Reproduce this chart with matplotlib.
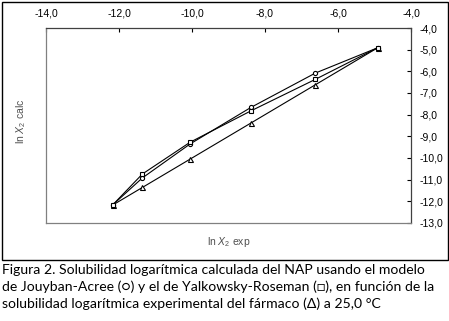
import matplotlib
matplotlib.use("Agg")
import matplotlib.pyplot as plt
from matplotlib.patches import Rectangle
from matplotlib.ticker import FuncFormatter, MultipleLocator

# ln X2 experimental (x) and calculated values (y)
ln_x2_exp = [-12.17, -11.36, -10.05, -8.38, -6.62, -4.91]
calc_exp = [-12.17, -11.36, -10.05, -8.38, -6.62, -4.91]
calc_jouyban = [-12.16, -10.92, -9.35, -7.66, -6.08, -4.91]
calc_yalkowsky = [-12.16, -10.74, -9.27, -7.82, -6.37, -4.91]

caption = [
    "Figura 2. Solubilidad logarítmica calculada del NAP usando el modelo",
    "de Jouyban-Acree (\u25cb) y el de Yalkowsky-Roseman (\u25a1), en función de la",
    "solubilidad logarítmica experimental del fármaco (\u0394) a 25,0 °C",
]

plt.rcParams['font.family'] = ['Liberation Sans', 'DejaVu Sans']
plt.rcParams['mathtext.fontset'] = 'custom'
plt.rcParams['mathtext.rm'] = 'Liberation Sans'
plt.rcParams['mathtext.it'] = 'Liberation Sans:italic'

W, H = 449, 321
fig = plt.figure(figsize=(W / 100, H / 100), dpi=100)

# outer frame around the chart area
fig.patches.append(Rectangle((1.5 / W, 1 - 260 / H), 446 / W, 258.5 / H,
                             transform=fig.transFigure, fill=False,
                             edgecolor='black', linewidth=1.0))

ax = fig.add_axes([46 / W, 1 - 223 / H, 365 / W, 195 / H])

mk = dict(color='black', linewidth=0.8, markerfacecolor='white',
          markeredgecolor='black', markeredgewidth=0.8)
ax.plot(ln_x2_exp, calc_exp, marker='^', markersize=3.6, **mk)
ax.plot(ln_x2_exp, calc_jouyban, marker='o', markersize=3.0, **mk)
ax.plot(ln_x2_exp, calc_yalkowsky, marker='s', markersize=3.2, **mk)

ax.set_xlim(-14, -4)
ax.set_ylim(-13, -4)
ax.xaxis.set_major_locator(MultipleLocator(2))
ax.yaxis.set_major_locator(MultipleLocator(1))
fmt = FuncFormatter(lambda v, p: f"{v:.1f}".replace('.', ','))
ax.xaxis.set_major_formatter(fmt)
ax.yaxis.set_major_formatter(fmt)
ax.xaxis.tick_top()
ax.yaxis.tick_right()
ax.tick_params(axis='x', direction='in', length=3, width=0.8, pad=7,
               labelsize=7.5, colors='black')
ax.tick_params(axis='y', direction='in', length=3, width=0.8, pad=6,
               labelsize=7.5, colors='black')
for side in ['left', 'bottom']:
    ax.spines[side].set_color('#808080')
for side in ['top', 'right']:
    ax.spines[side].set_color('#404040')
for s in ax.spines.values():
    s.set_linewidth(0.9)

fig.text(21 / W, 1 - 121 / H, r"ln $X_2$ calc", rotation=90, ha='center',
         va='center', fontsize=7.5, color='#505050')
fig.text(229 / W, 1 - 242 / H, r"ln $X_2$ exp", ha='center', va='center',
         fontsize=7.5, color='#505050')

for i, line in enumerate(caption):
    fig.text(2 / W, 1 - (270 + 17 * i) / H, line, ha='left', va='center',
             fontsize=10.1, color='black', family=['Lato', 'DejaVu Sans'])

fig.savefig('out.png', dpi=100)
